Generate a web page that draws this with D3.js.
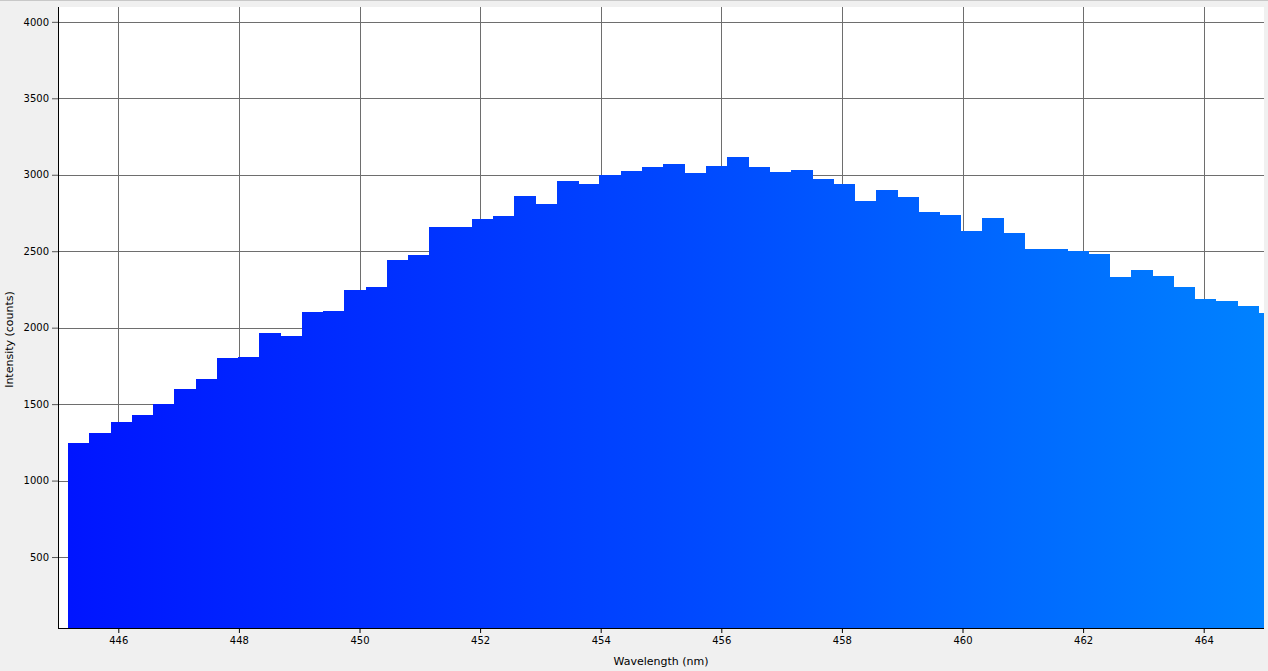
<!DOCTYPE html>
<html lang="en">
<head>
    <meta charset="UTF-8">
    <title>Spectrum</title>
    <style>
        html, body { margin: 0; padding: 0; background: #f0f0f0; }
        #main-svg { display: block; font-family: "DejaVu Sans", sans-serif; }
        .tick text { font-size: 10px; fill: #000; }
        .axis-label { font-size: 11px; fill: #000; }
    </style>
</head>
<body>
    <svg id="main-svg" width="1268" height="671"></svg>

    <script src="https://cdn.jsdelivr.net/npm/d3@7"></script>
    <script>
        // bin centres (nm) of the spectrometer pixels shown
        const wavelengths = [
            445.34, 445.69, 446.05, 446.40, 446.75, 447.10, 447.46, 447.81, 448.16, 448.51,
            448.87, 449.22, 449.57, 449.92, 450.28, 450.63, 450.98, 451.33, 451.69, 452.04,
            452.39, 452.74, 453.10, 453.45, 453.80, 454.15, 454.51, 454.86, 455.21, 455.56,
            455.92, 456.27, 456.62, 456.97, 457.33, 457.68, 458.03, 458.38, 458.74, 459.09,
            459.44, 459.79, 460.15, 460.50, 460.85, 461.20, 461.56, 461.91, 462.26, 462.61,
            462.97, 463.32, 463.67, 464.02, 464.38, 464.73, 465.08
        ];
        const counts = [
            1248, 1313, 1385, 1431, 1503, 1601, 1666, 1804, 1810, 1967,
            1948, 2105, 2111, 2249, 2268, 2445, 2478, 2661, 2661, 2713,
            2733, 2864, 2811, 2962, 2942, 3001, 3027, 3053, 3073, 3014,
            3060, 3119, 3053, 3021, 3034, 2975, 2942, 2831, 2903, 2857,
            2759, 2739, 2635, 2720, 2622, 2517, 2517, 2504, 2484, 2334,
            2380, 2340, 2268, 2190, 2177, 2144, 2098
        ];
        const xTicks = [446, 448, 450, 452, 454, 456, 458, 460, 462, 464];
        const yTicks = [500, 1000, 1500, 2000, 2500, 3000, 3500, 4000];
        const colourStops = [
            { nm: 445, c: '#0014ff' },
            { nm: 455, c: '#0046ff' },
            { nm: 465, c: '#0082ff' }
        ];
        const binWidth = 0.3525;

        const margin = { top: 7, right: 4, bottom: 43, left: 58 };
        const W = 1268, H = 671;
        const innerW = W - margin.left - margin.right;
        const innerH = H - margin.top - margin.bottom;

        const svg = d3.select('#main-svg');

        const x = d3.scaleLinear().domain([445, 465]).range([0, innerW]);
        const y = d3.scaleLinear().domain([36, 4097]).range([innerH, 0]);

        // spectrum colour gradient along wavelength
        const grad = svg.append('defs').append('linearGradient')
            .attr('id', 'spec-grad')
            .attr('gradientUnits', 'userSpaceOnUse')
            .attr('x1', x(445)).attr('x2', x(465))
            .attr('y1', 0).attr('y2', 0);
        grad.selectAll('stop')
            .data(colourStops)
            .enter().append('stop')
            .attr('offset', d => ((d.nm - 445) / 20 * 100) + '%')
            .attr('stop-color', d => d.c);

        svg.append('defs').append('clipPath').attr('id', 'plot-clip')
            .append('rect').attr('width', innerW).attr('height', innerH);

        const g = svg.append('g').attr('transform', `translate(${margin.left},${margin.top})`);

        g.append('rect')
            .attr('width', innerW)
            .attr('height', innerH)
            .attr('fill', '#fff');

        // grid
        g.append('g').selectAll('line')
            .data(xTicks).enter().append('line')
            .attr('x1', d => Math.round(x(d)) + 0.5).attr('x2', d => Math.round(x(d)) + 0.5)
            .attr('y1', 0).attr('y2', innerH)
            .attr('stroke', '#6e6e6e');
        g.append('g').selectAll('line')
            .data(yTicks).enter().append('line')
            .attr('y1', d => Math.round(y(d)) + 0.5).attr('y2', d => Math.round(y(d)) + 0.5)
            .attr('x1', 0).attr('x2', innerW)
            .attr('stroke', '#6e6e6e');

        // bars
        g.append('g')
            .attr('clip-path', 'url(#plot-clip)')
            .selectAll('rect')
            .data(wavelengths)
            .enter().append('rect')
            .attr('x', d => x(d - binWidth / 2))
            .attr('width', x(445 + binWidth) - x(445) + 0.4)
            .attr('y', (d, i) => y(counts[i]))
            .attr('height', (d, i) => innerH - y(counts[i]))
            .attr('fill', 'url(#spec-grad)')
            .attr('shape-rendering', 'crispEdges');

        // axes
        const xAxis = g.append('g')
            .attr('transform', `translate(0,${innerH})`)
            .call(d3.axisBottom(x).tickValues(xTicks).tickFormat(d3.format('d'))
                .tickSize(5).tickSizeOuter(0).tickPadding(4));
        const yAxis = g.append('g')
            .call(d3.axisLeft(y).tickValues(yTicks).tickFormat(d3.format('d'))
                .tickSize(6).tickSizeOuter(0).tickPadding(3));

        xAxis.select('.domain').attr('stroke', '#000').attr('d', `M0,0.5H${innerW}`);
        yAxis.select('.domain').attr('stroke', '#000').attr('d', `M0.5,0V${innerH}`);
        xAxis.selectAll('.tick line').attr('stroke', '#000');
        yAxis.selectAll('.tick line').attr('stroke', '#555');
        xAxis.selectAll('.tick text').attr('font-size', 10).attr('font-family', '"DejaVu Sans", sans-serif');
        yAxis.selectAll('.tick text').attr('font-size', 10).attr('font-family', '"DejaVu Sans", sans-serif');

        svg.append('text')
            .attr('class', 'axis-label')
            .attr('x', margin.left + innerW / 2)
            .attr('y', 665)
            .attr('text-anchor', 'middle')
            .text('Wavelength (nm)');

        svg.append('text')
            .attr('class', 'axis-label')
            .attr('transform', `translate(13,${margin.top + innerH / 2 + 22}) rotate(-90)`)
            .attr('text-anchor', 'middle')
            .text('Intensity (counts)');

        // thin frame line at the very top of the window
        svg.append('line')
            .attr('x1', 0).attr('x2', W).attr('y1', 0.5).attr('y2', 0.5)
            .attr('stroke', '#c8c8c8');
    </script>
</body>
</html>
